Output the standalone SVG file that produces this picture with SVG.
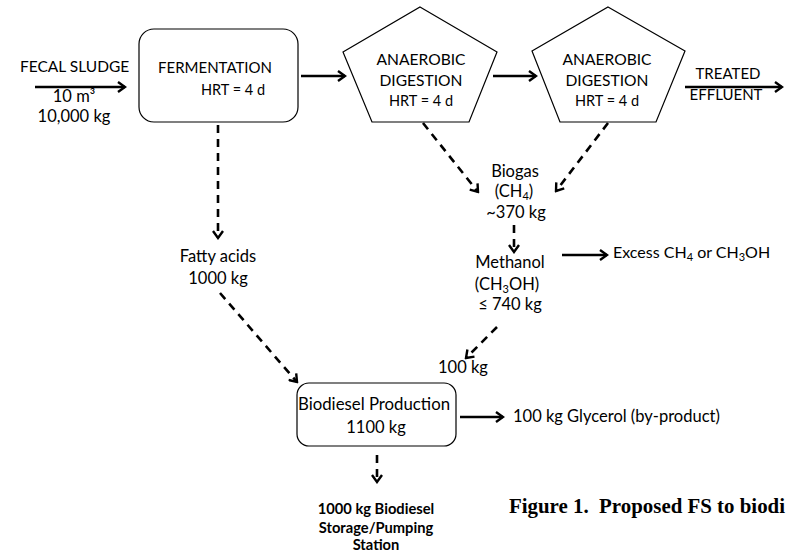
<svg xmlns="http://www.w3.org/2000/svg" width="786" height="553" viewBox="0 0 786 553">
<defs>
<marker id="arr" viewBox="0 0 12 12" refX="10" refY="6" markerWidth="12" markerHeight="12" markerUnits="userSpaceOnUse" orient="auto">
<path d="M3,1 L10,6 L3,11" fill="none" stroke="#000" stroke-width="2.4"/>
</marker>
<style>
text{font-family:Lato,"Liberation Sans",sans-serif;font-size:16.5px;fill:#000}
.c{text-anchor:middle}
.caps{font-size:15.5px}
.big{font-size:15.6px}
.ferm{font-size:15px}
.sm{font-size:14.5px}
.b{font-weight:bold;font-size:14.7px}
.cap{font-family:"Liberation Serif",serif;font-weight:bold;font-size:20px}
.sub{font-size:11px}
.shape{fill:#fff;stroke:#000;stroke-width:1.2}
.solid{fill:none;stroke:#000;stroke-width:2.6;marker-end:url(#arr)}
.dash{fill:none;stroke:#000;stroke-width:2.6;stroke-dasharray:8 6;marker-end:url(#arr)}
</style>
</defs>
<rect width="786" height="553" fill="#fff"/>
<g id="connectors">
<line class="solid" x1="35" y1="87" x2="125" y2="87"/>
<line class="solid" x1="301" y1="76" x2="345" y2="76"/>
<line class="solid" x1="493" y1="76" x2="536" y2="76"/>
<line class="solid" x1="685" y1="87" x2="782" y2="87"/>
<line class="dash" x1="218" y1="125" x2="218" y2="238"/>
<line class="dash" x1="220" y1="293" x2="297" y2="382"/>
<line class="dash" x1="423" y1="123" x2="478" y2="192"/>
<line class="dash" x1="608" y1="123" x2="556" y2="191"/>
<line class="dash" x1="514" y1="225" x2="514" y2="252"/>
<line class="solid" x1="562" y1="255" x2="607" y2="255"/>
<line class="dash" x1="497" y1="327" x2="466" y2="358"/>
<line class="solid" x1="460" y1="417" x2="503" y2="417"/>
<line class="dash" x1="377" y1="455" x2="377" y2="482"/>
</g>
<g id="fecal-sludge">
<text class="caps" x="20" y="72">FECAL SLUDGE</text>
<text class="c" x="74" y="102">10 m³</text>
<text class="c" x="74" y="122">10,000 kg</text>
</g>
<g id="fermentation">
<rect class="shape" x="139" y="29" width="159" height="93" rx="15"/>
<text class="ferm" x="158" y="73">FERMENTATION</text>
<text class="sm" x="201" y="95">HRT = 4 d</text>
</g>
<g id="anaerobic-digestion-1">
<polygon class="shape" points="420,7 497,52 469,122 372,122 343,52"/>
<text class="c big" x="421" y="65">ANAEROBIC</text>
<text class="c big" x="421" y="86">DIGESTION</text>
<text class="c sm" x="421" y="106">HRT = 4 d</text>
</g>
<g id="anaerobic-digestion-2">
<polygon class="shape" points="608,7 685,51 656,122 560,122 532,51"/>
<text class="c big" x="607" y="65">ANAEROBIC</text>
<text class="c big" x="607" y="86">DIGESTION</text>
<text class="c sm" x="607" y="106">HRT = 4 d</text>
</g>
<g id="treated-effluent">
<text class="c ferm" x="728" y="79">TREATED</text>
<text class="c ferm" x="726" y="100">EFFLUENT</text>
</g>
<g id="fatty-acids">
<text class="c" x="218" y="262">Fatty acids</text>
<text class="c" x="218" y="284">1000 kg</text>
</g>
<g id="biogas">
<text class="c" x="515" y="177">Biogas</text>
<text class="c" x="514" y="197">(CH<tspan class="sub" dy="3">4</tspan><tspan dy="-3">)</tspan></text>
<text class="c" x="516" y="218">~370 kg</text>
</g>
<g id="methanol">
<text class="c" x="510" y="268">Methanol</text>
<text class="c" x="507" y="290">(CH<tspan class="sub" dy="3">3</tspan><tspan dy="-3">OH)</tspan></text>
<text class="c" x="510" y="310">≤ 740 kg</text>
</g>
<g id="excess">
<text x="613" y="258" style="font-size:16px">Excess CH<tspan class="sub" dy="3">4</tspan><tspan dy="-3"> or CH</tspan><tspan class="sub" dy="3">3</tspan><tspan dy="-3">OH</tspan></text>
</g>
<g id="methanol-100kg">
<text x="438" y="373">100 kg</text>
</g>
<g id="biodiesel-production">
<rect class="shape" x="297" y="383" width="159" height="63" rx="12"/>
<text x="298" y="410" style="font-size:16.8px">Biodiesel Production</text>
<text class="c" x="376" y="433">1100 kg</text>
</g>
<g id="glycerol">
<text x="513" y="422">100 kg Glycerol (by-product)</text>
</g>
<g id="biodiesel-output">
<text class="c b" x="376" y="514">1000 kg Biodiesel</text>
<text class="c b" x="376" y="533">Storage/Pumping</text>
<text class="c b" x="376" y="550">Station</text>
</g>
<g id="caption">
<text class="cap" x="509" y="513" textLength="276" lengthAdjust="spacingAndGlyphs">Figure 1.&#160; Proposed FS to biodi</text>
</g>
</svg>
